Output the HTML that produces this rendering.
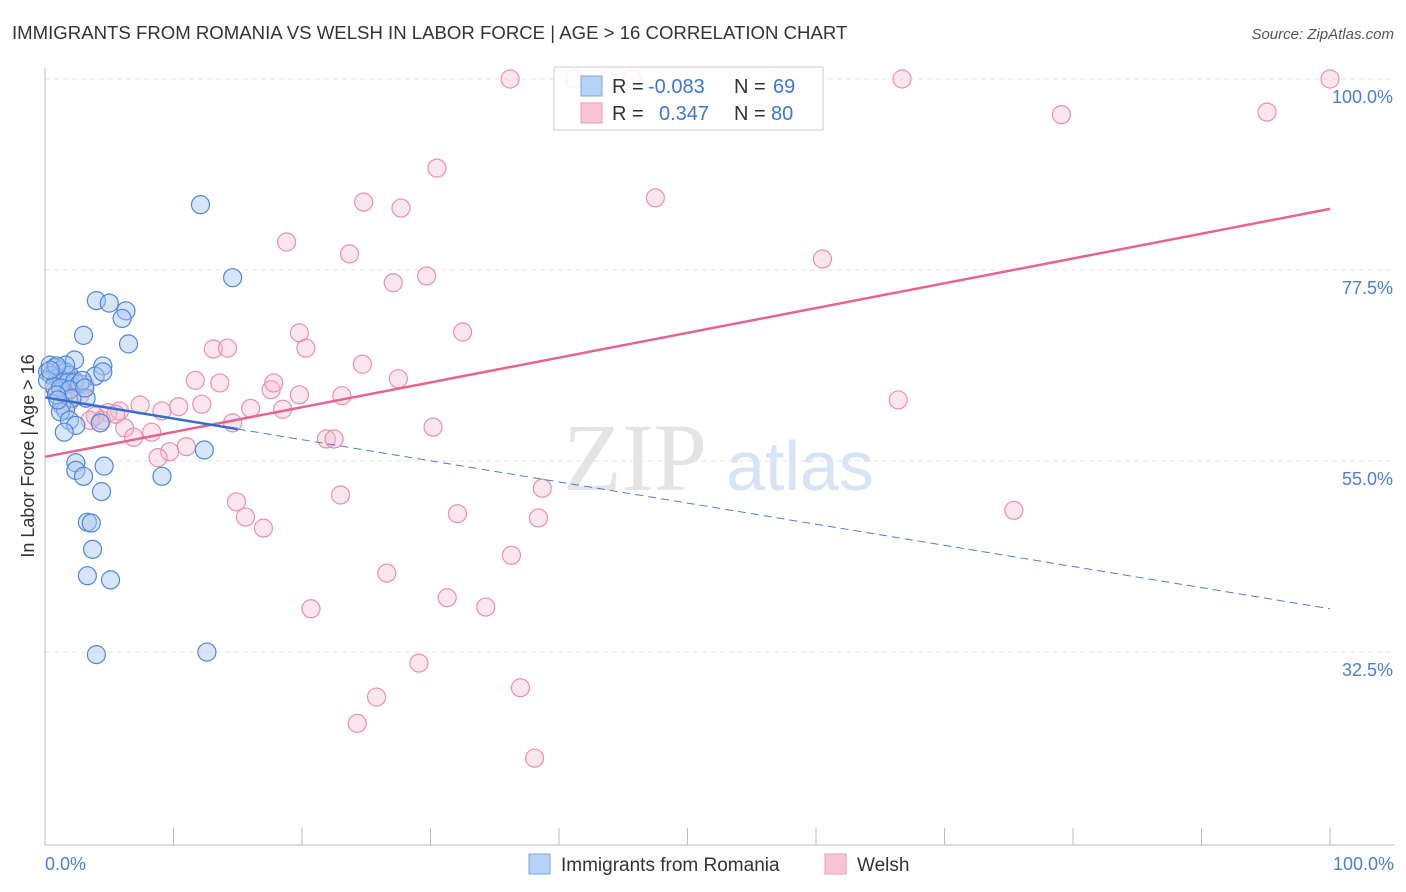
<!DOCTYPE html>
<html><head><meta charset="utf-8"><style>
body{margin:0;background:#fff;font-family:"Liberation Sans",sans-serif}
svg{display:block}
</style></head><body>
<svg id="c" width="1406" height="892" xmlns="http://www.w3.org/2000/svg" font-family="Liberation Sans, sans-serif">
<text x="12" y="39" font-size="18.6" fill="#333">IMMIGRANTS FROM ROMANIA VS WELSH IN LABOR FORCE | AGE &gt; 16 CORRELATION CHART</text>
<text x="1394" y="39" font-size="15" fill="#555" font-style="italic" text-anchor="end">Source: ZipAtlas.com</text>
<g id="grid"></g>
<text x="635" y="490" font-size="96" fill="#e4e4e4" text-anchor="middle" font-family="Liberation Serif, serif">ZIP</text>
<text x="800" y="490" font-size="70" fill="#d6e4f5" text-anchor="middle">atlas</text>
<g id="pts"></g>
<g id="lines"></g>
<line x1="45" y1="68" x2="45" y2="845" stroke="#bbb"/>
<line x1="45" y1="845" x2="1394" y2="845" stroke="#bbb"/>
<g id="xt"></g>
<text x="45" y="870" font-size="18" fill="#4a7fd4">0.0%</text>
<text x="1394" y="870" font-size="18" fill="#4a7fd4" text-anchor="end">100.0%</text>
<text transform="translate(34,456) rotate(-90)" font-size="18" fill="#333" text-anchor="middle">In Labor Force | Age &gt; 16</text>
<g>
<rect x="554" y="67" width="269" height="63" fill="#fff" fill-opacity="0.85" stroke="#ccc"/>
<rect x="581" y="76" width="21" height="20" fill="#b8d2f5" stroke="#7aa5e6"/>
<rect x="581" y="103" width="21" height="20" fill="#f9c5d6" stroke="#ee9ab6"/>
<text x="612" y="93" font-size="20" fill="#333">R = <tspan x="648" fill="#3b78d0">-0.083</tspan><tspan x="734">N = </tspan><tspan x="773" fill="#3b78d0">69</tspan></text>
<text x="612" y="120" font-size="20" fill="#333">R = <tspan x="659" fill="#3b78d0">0.347</tspan><tspan x="734">N = </tspan><tspan x="771" fill="#3b78d0">80</tspan></text>
</g>
<g>
<rect x="529" y="854" width="21" height="20" fill="#b8d2f5" stroke="#7aa5e6"/>
<text x="561" y="871" font-size="19" fill="#333">Immigrants from Romania</text>
<rect x="825" y="854" width="21" height="20" fill="#f9c5d6" stroke="#ee9ab6"/>
<text x="857" y="871" font-size="19" fill="#333">Welsh</text>
</g>
</svg>
<script>
const yTicks=[100,77.5,55,32.5];
const yTickLabels=["100.0%","77.5%","55.0%","32.5%"];
const blueX=[12.1,14.6,4.0,5.0,6.3,6.0,3.0,6.5,2.3,4.5,3.9,4.5,0.4,0.8,1.2,1.6,1.9,0.2,0.5,1.0,1.3,1.8,2.3,2.7,2.9,1.6,0.9,0.2,0.7,1.2,1.9,3.2,2.1,1.3,1.6,1.2,1.9,2.4,1.5,4.3,9.1,2.4,2.4,3.0,4.6,4.4,3.3,3.6,3.7,3.3,5.1,4.0,12.6,12.4,0.9,1.0,3.1,0.4];
const blueY=[85.2,76.6,73.9,73.6,72.7,71.8,69.8,68.8,66.9,66.2,65.0,65.5,66.3,66.0,65.7,65.5,65.1,65.5,65.1,64.8,64.5,64.3,64.3,64.1,64.5,66.3,66.2,64.5,63.8,63.6,63.4,62.4,62.4,61.6,61.0,60.8,59.8,59.2,58.4,59.5,53.2,54.8,53.9,53.2,54.4,51.4,47.8,47.7,44.6,41.5,41.0,32.2,32.5,56.3,62.8,62.2,63.6,65.7];
const pinkX=[36.2,41.2,45.7,66.7,100,79.1,95.1,30.5,47.5,24.8,27.7,18.8,23.7,60.5,29.7,27.1,32.5,19.8,20.3,13.1,14.2,24.7,27.5,11.7,13.6,17.6,17.8,19.8,23.1,12.2,10.4,16.0,18.5,9.1,7.4,5.8,4.9,3.9,3.5,4.4,5.5,6.2,6.9,8.3,14.6,30.2,66.4,21.9,22.5,11.0,9.7,8.8,14.9,15.6,17.0,23.0,32.1,38.7,38.4,75.4,36.3,26.6,31.3,34.3,20.7,29.1,37.0,25.8,24.3,38.1,0.8,1.2,2.3,3.1,1.6,1.9,2.7];
const pinkY=[100,100,100,100,100,95.8,96.1,89.5,86.0,85.5,84.8,80.8,79.4,78.8,76.8,76.0,70.2,70.1,68.3,68.2,68.3,66.4,64.7,64.5,64.2,63.4,64.2,62.8,62.7,61.7,61.4,61.2,61.1,60.9,61.6,60.9,60.7,60.3,59.8,59.8,60.5,58.9,57.8,58.4,59.5,59.0,62.2,57.6,57.6,56.7,56.1,55.4,50.2,48.4,47.1,51.0,48.8,51.8,48.3,49.2,43.9,41.8,38.9,37.8,37.6,31.2,28.3,27.2,24.1,20.0,63.4,64.0,64.5,64.0,62.8,62.0,62.7];
const blueTrend=[62.5,37.6];
const pinkTrend=[55.5,84.7];
const NS="http://www.w3.org/2000/svg";
const sx=v=>45+v*12.85, sy=v=>79+(100-v)*8.49;
function mk(tag,attrs,parent){const e=document.createElementNS(NS,tag);for(const k in attrs)e.setAttribute(k,attrs[k]);parent.appendChild(e);return e;}
const grid=document.getElementById('grid');
yTicks.forEach((t,i)=>{
  const l=mk('line',{x1:45,x2:1394,y1:sy(t),y2:sy(t),stroke:'#e6e6e6','stroke-dasharray':'5,4'},grid);
  
  
  const tx=mk('text',{x:1393,y:sy(t)+24,'font-size':18,fill:'#4a7fd4','text-anchor':'end'},grid);
  tx.textContent=yTickLabels[i];
  
  
});
const xt=document.getElementById('xt');
for(let i=1;i<=10;i++){
  const l=mk('line',{x1:sx(i*10),x2:sx(i*10),y1:828,y2:845,stroke:'#bbb'},xt);
  
  
}
const pts=document.getElementById('pts');
pinkX.forEach((x,i)=>{
  const c=mk('circle',{cx:sx(x),cy:sy(pinkY[i]),r:9,fill:'#f7b6cb','fill-opacity':0.35,stroke:'#e98fae','stroke-width':1.2},pts);
  
  
});
blueX.forEach((x,i)=>{
  const c=mk('circle',{cx:sx(x),cy:sy(blueY[i]),r:9,fill:'#a6c6f0','fill-opacity':0.45,stroke:'#4f86dc','stroke-width':1.2},pts);
  
  
});
const lg=document.getElementById('lines');
const pl=mk('line',{x1:sx(0),y1:sy(pinkTrend[0]),x2:sx(100),y2:sy(pinkTrend[1]),stroke:'#e8628f','stroke-width':2.5},lg);


const bAt=x=>blueTrend[0]+(blueTrend[1]-blueTrend[0])*x/100;
const bl=mk('line',{x1:sx(0),y1:sy(bAt(0)),x2:sx(15),y2:sy(bAt(15)),stroke:'#2f6fd6','stroke-width':2.5},lg);


const bd=mk('line',{x1:sx(15),y1:sy(bAt(15)),x2:sx(100),y2:sy(bAt(100)),stroke:'#4a7fd4','stroke-width':1,'stroke-dasharray':'8,5'},lg);


</script>
</body></html>
